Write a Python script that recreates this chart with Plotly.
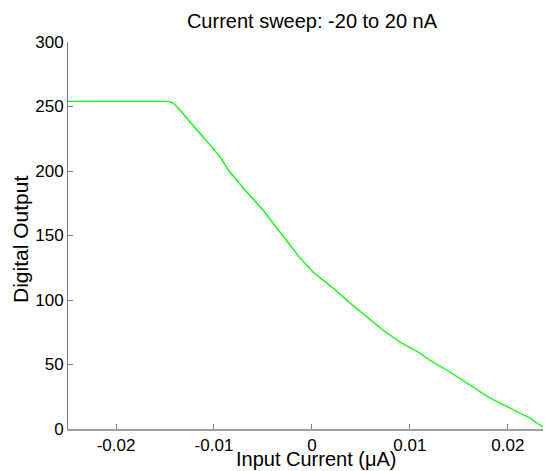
import plotly.graph_objects as go

# Input current (uA) and digital output
current_uA = [-0.025, -0.0147, -0.01418, -0.01347, -0.01245, -0.01143, -0.01041,
              -0.00939, -0.00837, -0.00684, -0.0050, -0.00327, -0.00122, 0.0001,
              0.00214, 0.00388, 0.00561, 0.00724, 0.00898, 0.0110, 0.0120,
              0.01408, 0.01612, 0.01816, 0.0202, 0.02224, 0.02327, 0.02398]
digital_out = [254, 254, 252.7, 247.3, 238.0, 229.5, 220.2,
               210.9, 199.2, 185.3, 169.8, 152.7, 132.6, 121.7,
               109.3, 97.7, 86.8, 76.7, 67.4, 58.9, 53.5,
               44.2, 34.1, 24.0, 16.3, 8.5, 3.1, 0]

x_ticks = [-0.02, -0.01, 0, 0.01, 0.02]
x_tick_labels = ["-0.02", "-0.01", "0", "0.01", "0.02"]
y_ticks = [0, 50, 100, 150, 200, 250, 300]

font_family = "Arial, Liberation Sans, Helvetica, sans-serif"

# page body adds an 8px offset; figure sized so the plot lands where the reference has it
W, H = 543, 463
L, T = 60, 34
PW, PH = 483, 387

fig = go.Figure()
fig.add_trace(go.Scatter(x=current_uA, y=digital_out, mode="lines",
                         line=dict(color="#00ff00", width=1.3),
                         showlegend=False, hoverinfo="skip"))

fig.update_layout(
    width=W, height=H,
    margin=dict(l=L, r=W - L - PW, t=T, b=H - T - PH, pad=0),
    paper_bgcolor="white", plot_bgcolor="white",
    font=dict(family=font_family, size=17, color="black"),
    title=dict(text="Current sweep: -20 to 20 nA", x=(312 - 68) / 483, xref="paper",
               y=1 - 13 / H, yref="container", yanchor="middle",
               xanchor="center", font=dict(size=20)),
    xaxis=dict(range=[-0.0249, 0.0244], tickvals=x_ticks, ticktext=x_tick_labels,
               showgrid=False, zeroline=False, showline=True,
               linecolor="#a0a0a0", linewidth=2, ticks="inside", ticklen=5,
               tickcolor="#808080", tickfont=dict(size=17)),
    yaxis=dict(range=[0, 300], tickvals=y_ticks, showgrid=False, zeroline=False,
               showline=True, linecolor="#808080", linewidth=1, ticks="inside",
               ticklen=5, tickcolor="#808080", tickfont=dict(size=17)),
    annotations=[
        dict(text="Input Current (μA)", xref="paper", yref="paper",
             x=(316 - 68) / 483, y=(429 - 459) / 387, xanchor="center",
             yanchor="middle", showarrow=False, font=dict(size=20)),
        dict(text="Digital Output", xref="paper", yref="paper",
             x=(20 - 68) / 483, y=(429 - 240) / 387, xanchor="center",
             yanchor="middle", textangle=-90, showarrow=False,
             font=dict(size=21)),
    ],
)

fig.write_html("out.html")
